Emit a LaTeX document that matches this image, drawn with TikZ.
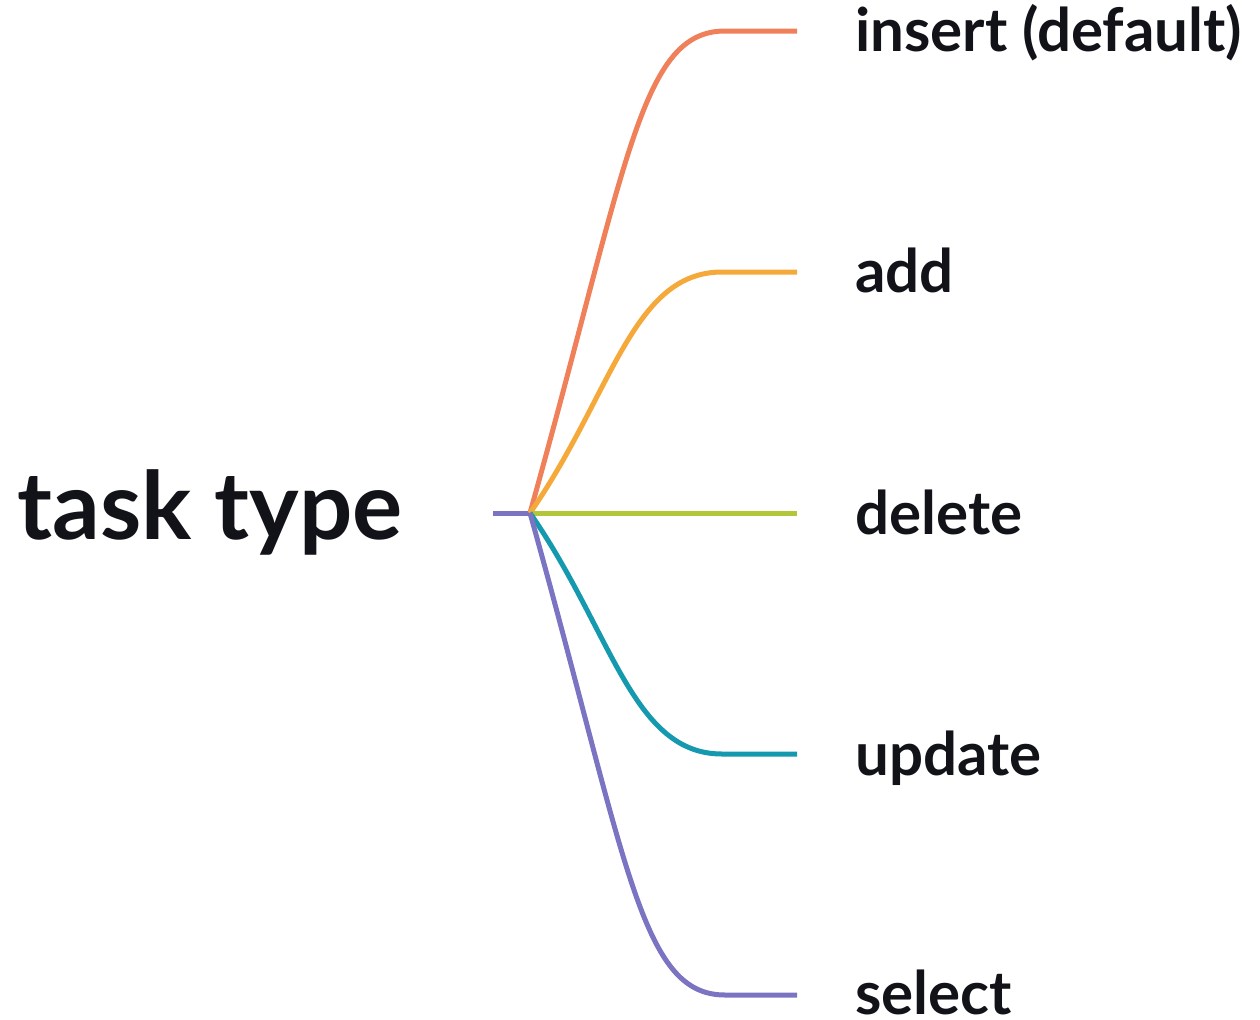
\documentclass[tikz,border=0pt]{standalone}
\usepackage{fontspec}
\setmainfont{Lato}
\begin{document}
\begin{tikzpicture}[x=0.5pt,y=-0.5pt,
  branch/.style={line width=2.5pt, line cap=butt},
  leaf/.style={anchor=base west, inner sep=0pt, text=ink, font=\bfseries\fontsize{30}{36}\selectfont},
  rootlabel/.style={anchor=base west, inner sep=0pt, text=ink, font=\bfseries\fontsize{47}{56}\selectfont}]
\definecolor{ink}{HTML}{111318}
\definecolor{cInsert}{HTML}{F0805A}
\definecolor{cAdd}{HTML}{F6A93B}
\definecolor{cDelete}{HTML}{B3C63A}
\definecolor{cUpdate}{HTML}{1499AE}
\definecolor{cSelect}{HTML}{7A74C2}
\useasboundingbox (0,0) rectangle (1260,1019);

% central topic and junction
\node[rootlabel] (root) at (17,539) {task type};
\coordinate (stub) at (493,513);
\coordinate (j) at (530,513);

% branch ends
\coordinate (e1) at (725,31);   \coordinate (h1) at (797,31);
\coordinate (e2) at (722,272);  \coordinate (h2) at (797,272);
\coordinate (h3) at (797,513);
\coordinate (e4) at (722,754);  \coordinate (h4) at (797,754);
\coordinate (e5) at (725,995);  \coordinate (h5) at (797,995);

% leaf labels
\node[leaf] (insert) at (855,51)   {insert (default)};
\node[leaf] (add)    at (855,292)  {add};
\node[leaf] (delete) at (855,534)  {delete};
\node[leaf] (update) at (855,775)  {update};
\node[leaf] (select) at (855,1014) {select};

% connectors
\draw[branch, cSelect] (stub) -- (j);
\draw[branch, cInsert] (j) .. controls (628,163) and (640,31) .. (e1) -- (h1);
\draw[branch, cAdd]    (j) .. controls (612,395) and (632,272) .. (e2) -- (h2);
\draw[branch, cDelete] (j) -- (h3);
\draw[branch, cUpdate] (j) .. controls (612,631) and (632,754) .. (e4) -- (h4);
\draw[branch, cSelect] (j) .. controls (628,863) and (640,995) .. (e5) -- (h5);
\end{tikzpicture}
\end{document}
